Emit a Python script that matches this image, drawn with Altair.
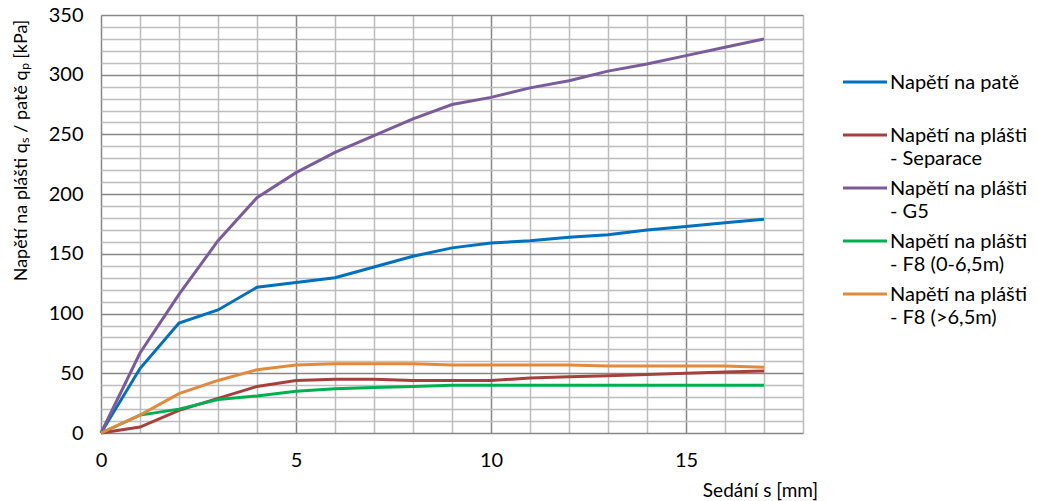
import altair as alt
import pandas as pd

# --- data ---
sedani = list(range(0, 18))
pata = [0, 54, 92, 103, 122, 126, 130, 139, 148, 155, 159, 161, 164, 166, 170, 173, 176, 179]
separace = [0, 5, 19, 29, 39, 44, 45, 45, 44, 44, 44, 46, 47, 48, 49, 50, 51, 52]
g5 = [0, 67, 116, 161, 197, 218, 235, 249, 263, 275, 281, 289, 295, 303, 309, 316, 323, 330]
f8_low = [0, 15, 20, 28, 31, 35, 37, 38, 39, 40, 40, 40, 40, 40, 40, 40, 40, 40]
f8_high = [0, 15, 33, 44, 53, 57, 58, 58, 58, 57, 57, 57, 57, 56, 56, 56, 56, 55]

series_names = [
    "Napětí na patě|",
    "Napětí na plášti|- Separace",
    "Napětí na plášti|- G5",
    "Napětí na plášti|- F8 (0-6,5m)",
    "Napětí na plášti|- F8 (>6,5m)",
]
series_values = [pata, separace, g5, f8_low, f8_high]
series_colors = ["#0070C0", "#A5403D", "#7A5C9C", "#00B050", "#E3893C"]

x_ticks = list(range(0, 19))
y_ticks = list(range(0, 351, 10))

rows = []
for name, vals in zip(series_names, series_values):
    for s, v in zip(sedani, vals):
        rows.append({"s": s, "q": v, "serie": name})
df = pd.DataFrame(rows)

FONT = "Lato"
MAJOR = "#878787"
MINOR = "#bdbdbd"

chart = alt.Chart(df).mark_line(strokeWidth=3).encode(
    x=alt.X(
        "s:Q",
        scale=alt.Scale(domain=[0, 18], nice=False, zero=True),
        axis=alt.Axis(
            values=x_ticks,
            labelExpr="datum.value % 5 == 0 ? datum.label : ''",
            labelFlush=False,
            title="Sedání s [mm]",
            titleX=659,
            titleY=57,
            titleAlign="center",
            titleBaseline="middle",
            titleFontWeight="normal",
            titleFontSize=19,
            gridColor={"condition": {"test": "datum.value % 5 == 0", "value": MAJOR}, "value": MINOR},
            ticks=False,
            domain=False,
            labelPadding=17,
        ),
    ),
    y=alt.Y(
        "q:Q",
        scale=alt.Scale(domain=[0, 350], nice=False),
        axis=alt.Axis(
            values=y_ticks,
            labelExpr="datum.value % 50 == 0 ? datum.label : ''",
            labelFlush=False,
            title="Napětí na plášti qₛ / patě qₚ [kPa]",
            titleX=-80,
            titleY=135,
            titleAlign="center",
            titleBaseline="middle",
            titleFontWeight="normal",
            titleFontSize=18,
            gridColor={"condition": {"test": "datum.value % 50 == 0", "value": MAJOR}, "value": MINOR},
            ticks=False,
            domain=False,
            labelPadding=18,
        ),
    ),
    color=alt.Color(
        "serie:N",
        scale=alt.Scale(domain=series_names, range=series_colors),
        legend=alt.Legend(
            title=None,
            orient="none",
            legendX=754,
            legendY=48,
            symbolType="M-4,1.64H4",
            symbolSize=121,
            symbolStrokeWidth=3,
            labelBaseline="top",
            labelOffset=15,
            labelExpr="split(datum.label, '|')",
            labelFontSize=20,
            labelFont=FONT,
            labelColor="#000",
            labelLimit=300,
            rowPadding=-1,
            padding=0,
        ),
    ),
).properties(
    width=702,
    height=418,
    autosize=alt.AutoSizeParams(type="none"),
    padding={"left": 93, "top": 7, "right": 227, "bottom": 68},
)

chart.config = alt.Config(
    view=alt.ViewConfig(stroke=None),
    axis=alt.AxisConfig(
        labelFont=FONT,
        titleFont=FONT,
        labelFontSize=20,
        titleFontSize=20,
        labelColor="#000",
        titleColor="#000",
        gridWidth=1.5,
        gridOpacity=1,
    ),
    style={"guide-label": {"lineHeight": 23}},
)

chart.save("out.html", embed_options={"renderer": "svg", "actions": False})
